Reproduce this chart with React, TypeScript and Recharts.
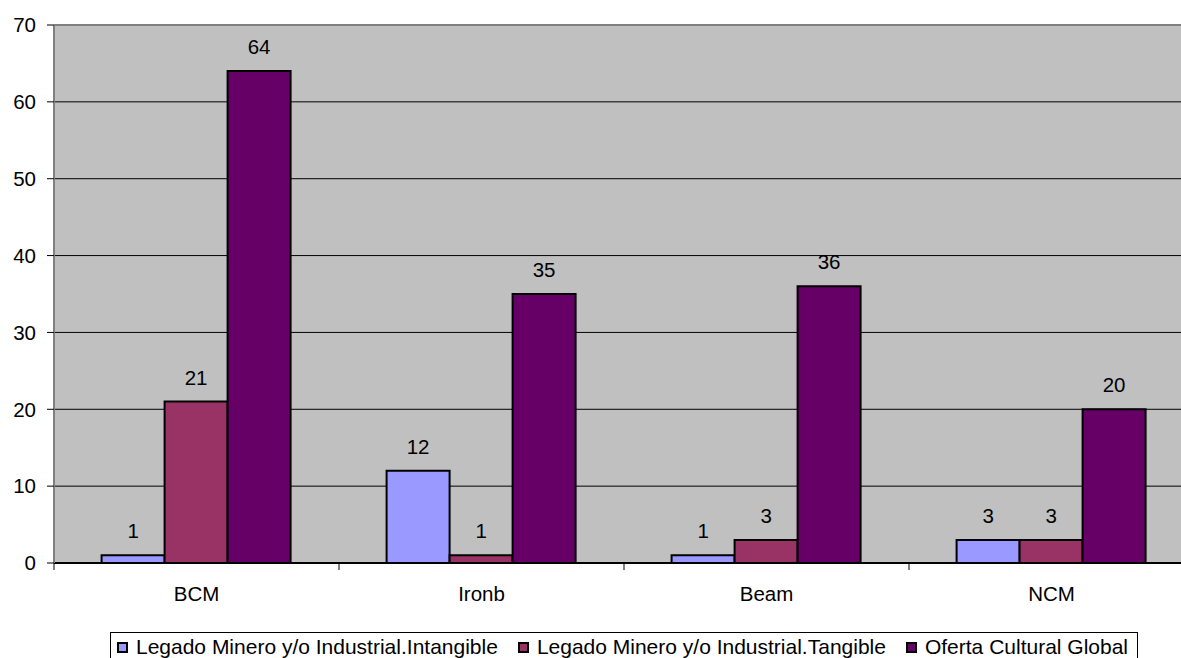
import { BarChart, Bar, XAxis, YAxis, CartesianGrid, LabelList, ReferenceLine } from 'recharts'

const categories = ['BCM', 'Ironb', 'Beam', 'NCM']
const intangible = [1, 12, 1, 3]
const tangible = [21, 1, 3, 3]
const global = [64, 35, 36, 20]
const yTicks = [0, 10, 20, 30, 40, 50, 60, 70]

const seriesNames = [
  'Legado Minero y/o Industrial.Intangible',
  'Legado Minero y/o Industrial.Tangible',
  'Oferta Cultural Global',
]
const seriesColors = ['#9999FF', '#993366', '#660066']
const seriesKeys = ['intangible', 'tangible', 'global']

const data = categories.map((name, i) => ({
  name,
  intangible: intangible[i],
  tangible: tangible[i],
  global: global[i],
}))

// page without the default margin so the chart sits at the window's corner
document.documentElement.style.overflow = 'hidden'
document.body.style.margin = '0'

const FONT = '"Liberation Sans", Arial, sans-serif'
const CHART_W = 1181
const CHART_H = 658
const Y_AXIS_W = 54
const PLOT_RIGHT = 1194 // the plot area runs past the window's right edge
const PLOT_W = PLOT_RIGHT - Y_AXIS_W
const BAND = PLOT_W / categories.length

// category label centred, tick marks on the category boundaries
const CategoryTick = ({ x, y, payload }: any) => {
  const left = x - BAND / 2
  return (
    <g>
      <line x1={left} y1={y - 8} x2={left} y2={y - 1} stroke="#000" strokeWidth={1} />
      <text x={x} y={y + 22} textAnchor="middle" dominantBaseline="central" fill="#000" fontSize={20.5} fontFamily={FONT}>
        {payload.value}
      </text>
    </g>
  )
}

export default function App() {
  return (
    <div style={{ position: 'relative', width: CHART_W, height: CHART_H, overflow: 'hidden', background: '#fff' }}>
      <BarChart
        width={CHART_W}
        height={CHART_H}
        data={data}
        margin={{ top: 25, right: 0, left: 0, bottom: 45 }}
        barCategoryGap="16.7%"
        barGap={0}
      >
        <CartesianGrid vertical={false} stroke="#000" strokeWidth={1} fill="#C0C0C0" fillOpacity={1} />
        <XAxis
          dataKey="name"
          height={50}
          tickSize={8}
          tickMargin={0}
          tickLine={false}
          padding={{ left: 0, right: CHART_W - PLOT_RIGHT }}
          axisLine={{ stroke: '#000', strokeWidth: 2 }}
          tick={<CategoryTick />}
          interval={0}
        />
        <YAxis
          width={Y_AXIS_W}
          domain={[0, 70]}
          ticks={yTicks}
          interval={0}
          tickSize={7}
          tickMargin={11}
          axisLine={{ stroke: '#808080', strokeWidth: 2 }}
          tickLine={{ stroke: '#000' }}
          tick={{ fill: '#000', fontSize: 20.5, fontFamily: FONT }}
        />
        <ReferenceLine y={70} stroke="#808080" strokeWidth={2} />
        {seriesKeys.map((key, i) => (
          <Bar key={key} dataKey={key} name={seriesNames[i]} fill={seriesColors[i]} stroke="#000" strokeWidth={2} isAnimationActive={false}>
            <LabelList dataKey={key} position="top" offset={17} fill="#000" fontSize={20.5} fontFamily={FONT} />
          </Bar>
        ))}
      </BarChart>
      <div style={{ position: 'absolute', left: Y_AXIS_W, top: 632, width: PLOT_W, display: 'flex', justifyContent: 'center' }}>
        <div style={{ border: '1px solid #000', display: 'flex', alignItems: 'center', gap: 20, padding: '2px 9px 4px 6px', fontFamily: FONT, fontSize: 21, color: '#000', background: '#fff' }}>
          {seriesNames.map((name, i) => (
            <div key={name} style={{ display: 'flex', alignItems: 'center', gap: 8 }}>
              <span style={{ width: 7, height: 7, background: seriesColors[i], border: '2px solid #000', display: 'inline-block' }} />
              <span>{name}</span>
            </div>
          ))}
        </div>
      </div>
    </div>
  )
}
